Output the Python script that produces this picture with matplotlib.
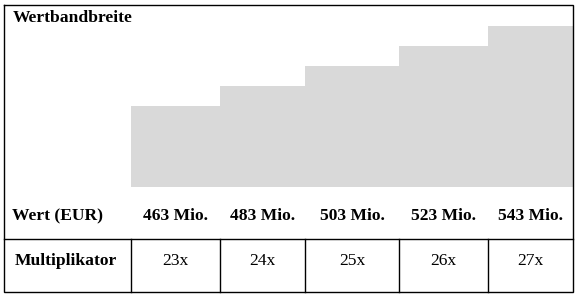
import matplotlib
matplotlib.use("Agg")
import matplotlib.pyplot as plt
import numpy as np

# ---- data ----
title = "Wertbandbreite"
row_value_label = "Wert (EUR)"
row_mult_label = "Multiplikator"
values = [463, 483, 503, 523, 543]          # Mio. EUR
value_labels = ["463 Mio.", "483 Mio.", "503 Mio.", "523 Mio.", "543 Mio."]
multipliers = ["23x", "24x", "25x", "26x", "27x"]

# ---- layout (pixels) ----
W, H = 579, 299
col_edges = [131, 220, 305, 399, 488, 573]
left_border, top_border, bottom_border = 4, 5, 292
bar_bottom_px = 187
hline_y = 239
base_value = 382
top_value = 564

font = ["Liberation Serif", "DejaVu Serif"]
fs = 12.6
bar_color = "#D9D9D9"

fig = plt.figure(figsize=(W / 100, H / 100), dpi=100)

# bar axes
ax_b = fig.add_axes([col_edges[0] / W, (H - bar_bottom_px) / H,
                     (col_edges[-1] - col_edges[0]) / W, (bar_bottom_px - top_border) / H])
lefts = np.array(col_edges[:-1], dtype=float)
widths = np.diff(col_edges).astype(float)
ax_b.bar(lefts, np.array(values) - base_value, bottom=base_value, width=widths,
         align="edge", color=bar_color, linewidth=0)
ax_b.set_xlim(col_edges[0], col_edges[-1])
ax_b.set_ylim(base_value, top_value)
ax_b.axis("off")

# overlay axes in pixel coordinates
ax = fig.add_axes([0, 0, 1, 1])
ax.set_xlim(0, W)
ax.set_ylim(H, 0)
ax.axis("off")
ax.patch.set_alpha(0)

lw = 1.0
# outer border
ax.plot([left_border, col_edges[-1], col_edges[-1], left_border, left_border],
        [top_border, top_border, bottom_border, bottom_border, top_border],
        color="black", lw=lw, solid_joinstyle="miter")
# row separator
ax.plot([left_border, col_edges[-1]], [hline_y, hline_y], color="black", lw=lw)
# column separators in bottom row
for x in col_edges[:-1]:
    ax.plot([x, x], [hline_y, bottom_border], color="black", lw=lw)

ax.text(12.5, 22, title, family=font, fontsize=fs, fontweight="bold",
        ha="left", va="baseline")
ax.text(12.5, 220, row_value_label, family=font, fontsize=fs, fontweight="bold",
        ha="left", va="baseline")
ax.text(65.5, 265, row_mult_label, family=font, fontsize=fs, fontweight="bold",
        ha="center", va="baseline")

centers = (np.array(col_edges[:-1]) + np.array(col_edges[1:])) / 2
for c, vl, m in zip(centers, value_labels, multipliers):
    ax.text(c, 220, vl, family=font, fontsize=fs, fontweight="bold",
            ha="center", va="baseline")
    ax.text(c, 265, m, family=font, fontsize=fs, ha="center", va="baseline")

fig.savefig("out.png", dpi=100)
